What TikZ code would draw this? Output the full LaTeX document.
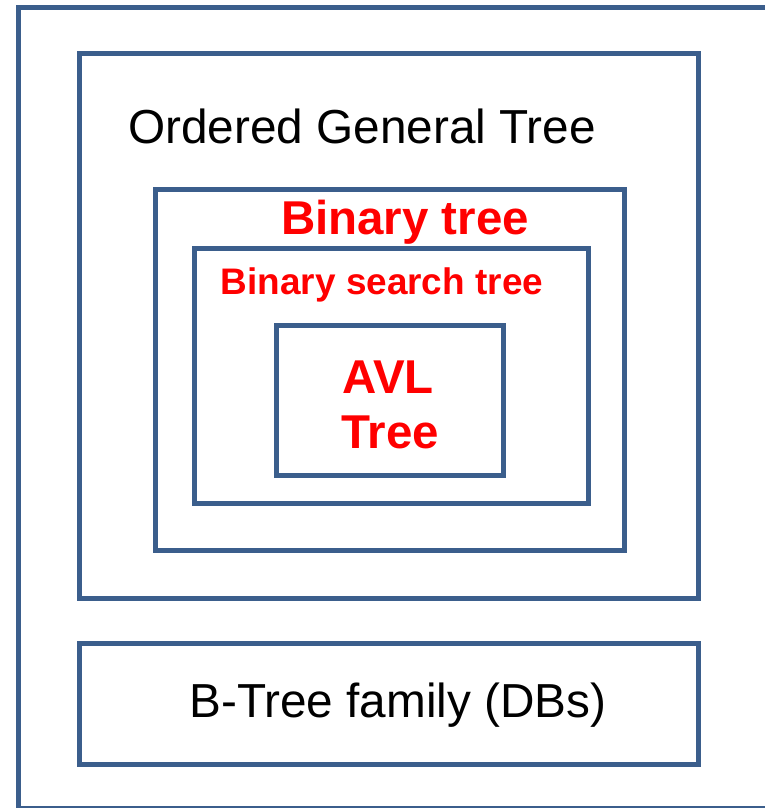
\documentclass[tikz,border=0pt]{standalone}
\usepackage{fontspec}
\setmainfont{Liberation Sans}
\definecolor{boxblue}{HTML}{3B5E8C}
\definecolor{labred}{HTML}{FF0000}

\begin{document}
\begin{tikzpicture}
[
	frame/.style={draw=boxblue,line width=3.75pt},
	plainlab/.style={anchor=base,inner sep=0pt,font=\fontsize{35.8}{41}\selectfont},
	redlab/.style={anchor=base,inner sep=0pt,text=labred,font=\fontsize{35.6}{41}\selectfont\bfseries},
	x=0.75pt,
	y=-0.75pt
]

	\useasboundingbox (0,0) rectangle (765,808);
	\clip (0,0) rectangle (765,808);

	% outer frame, cut off on the right
	\draw[frame] (18.5,7.5) rectangle (800,808.5);

	% nested boxes
	\draw[frame] (79.5,53.5) rectangle (698.5,598);
	\draw[frame] (155,189.5) rectangle (624,550);
	\draw[frame] (194.5,248.5) rectangle (588,503);
	\draw[frame] (276,325) rectangle (503,475);

	% lower box
	\draw[frame] (79.5,643) rectangle (698.5,764);

	% labels
	\node[plainlab] (ogt) at (362,143) {Ordered General Tree};
	\node[redlab] (bt) at (405,234) {Binary tree};
	\node[redlab,font=\fontsize{27.7}{33}\selectfont\bfseries] (bst) at (382,294) {Binary search tree};
	\node[redlab] (avl) at (388,393) {AVL};
	\node[redlab] (avltree) at (390,448) {Tree};
	\node[plainlab] (btree) at (398,717) {B-Tree family (DBs)};

\end{tikzpicture}
\end{document}
